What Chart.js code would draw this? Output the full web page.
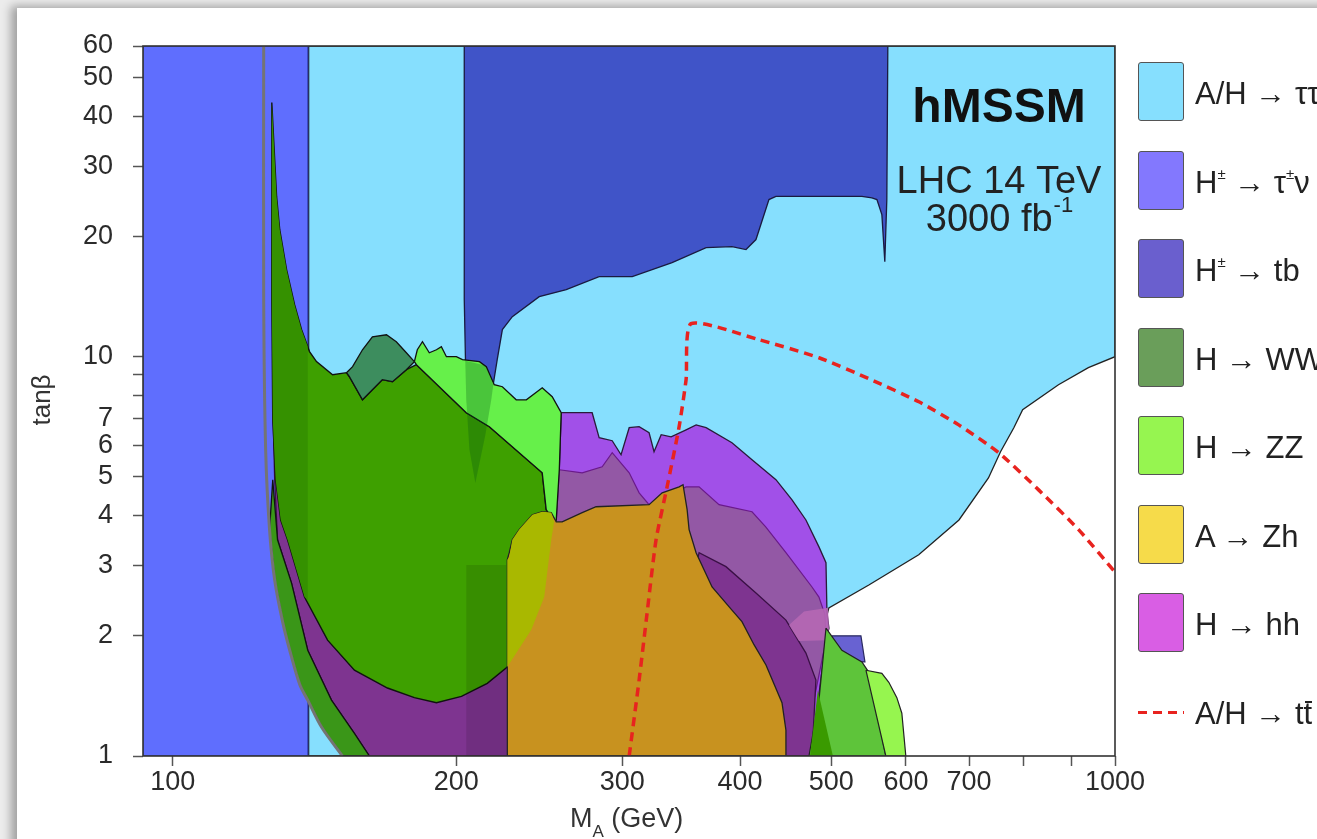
<!DOCTYPE html>
<html lang="en">
<head>
<meta charset="UTF-8">
<title>hMSSM LHC 14 TeV reach</title>
<script src="https://cdn.jsdelivr.net/npm/chart.js@4.4.1/dist/chart.umd.min.js"></script>
<style>
  body { margin: 0; width: 1317px; height: 839px; overflow: hidden; background: #ececec;
         font-family: "Liberation Sans", Arial, Helvetica, sans-serif; }
  .card { position: absolute; left: 17px; top: 8px; width: 1400px; height: 900px; background: #fff;
          box-shadow: -6px -2px 9px rgba(0,0,0,0.32); }
  #plot { position: absolute; left: 0; top: 0; }
  .legend { position: absolute; left: 1138px; top: 0; }
  .item { position: absolute; left: 0; height: 60px; white-space: nowrap; }
  .box { position: absolute; left: 0; top: 0; width: 44px; height: 57px; border: 1.5px solid #555; border-radius: 3px; }
  .dash { position: absolute; left: 0; top: 29px; width: 46px; height: 3px;
          background: repeating-linear-gradient(to right, #e8231f 0 9px, transparent 9px 15px); }
  .label { position: absolute; left: 57px; top: 0; line-height: 64px; font-size: 31px; color: #222; }
  .label sup { font-size: 15px; line-height: 0; vertical-align: baseline; position: relative; top: -14px; }
  .ov { position: relative; }
  .ov::after { content: ''; position: absolute; left: 1px; right: 0; top: 5px; height: 2px; background: #222; }
</style>
</head>
<body>
<div class="card"></div>
<canvas id="plot" width="1317" height="839"></canvas>
<div class="legend" id="legend"></div>
<script>
// axis ticks
const xTickLabels = [100, 200, 300, 400, 500, 600, 700, 1000];
const xMinorTicks = [800, 900];
const yTickLabels = [1, 2, 3, 4, 5, 6, 7, 10, 20, 30, 40, 50, 60];
const yMinorTicks = [8, 9];

// regions, [M_A (GeV), tan beta]
const regTauTau = [[139.4,60],[1000,60],[1000,10],[937,9.39],[871,8.51],[798,7.37],[781,6.64],[756,5.78],[734,4.97],[683,3.9],[619,3.19],[548,2.68],[497,2.35],[487,1.95],[473,1],[139.4,1]];
const regTauNu = [[93,60],[139.1,60],[139.1,1],[93,1]];
const regTbHigh = [[203.9,60],[574,60],[572.6,24.75],[569.8,17.3],[565.7,22.7],[558.9,24.75],[552.1,25],[538.8,25.2],[436.7,25.2],[429.3,24.75],[415.9,19.65],[405.9,18.55],[392.2,18.87],[368.2,18.76],[338.8,17.2],[307.4,15.87],[283.5,15.87],[261.6,14.72],[244.9,14.14],[229.3,12.6],[223.8,11.69],[221,9.83],[218.4,8.27],[214.7,6.38],[209.5,4.83],[206.5,5.85],[204.9,7.8],[203.9,13.9]];
const regTbLow = [[500.7,2],[537.5,2],[542.8,1.72],[509.4,1.72]];
const regHhOuter = [[258.4,7.24],[278.7,7.24],[283.5,6.27],[292.7,6.16],[299.1,5.68],[305.1,6.64],[312.6,6.68],[320.3,6.45],[324.2,5.78],[329.9,6.38],[338,6.3],[350.6,6.56],[359.3,6.75],[368.2,6.64],[392.2,6.09],[411.9,5.52],[436.7,4.92],[454.2,4.38],[469.9,3.9],[485.1,3.34],[493.5,3.05],[494.7,2.28],[497.1,2.09],[493.5,1.95],[475.7,1],[255.3,1],[255.3,3.86],[257.2,5.21]];
const regHhMid = [[257.2,5.21],[272,5.12],[285.6,5.3],[292.7,5.75],[305.1,5.12],[312.6,4.56],[320.3,4.26],[350.6,4.72],[361.9,4.72],[380,4.26],[411.9,4.09],[425.9,3.75],[447.5,3.23],[476.9,2.65],[485.1,2.5],[492.2,2.26],[493.5,1.95],[479.2,1.38],[476.9,1],[255.3,1],[255.3,3.86]];
const regHhInner = [[127.7,7.8],[128.3,4.92],[129.2,3.48],[133.7,2.71],[139.1,1.84],[147.4,1.38],[155.9,1.14],[161.7,1],[476.9,1],[481.5,1.55],[469.9,1.81],[447.5,2.19],[415.9,2.56],[386.5,2.98],[361.9,3.23],[353.2,2.46],[233.2,2.46],[174,2.46],[136.4,5.85],[129.9,8.76]];
const regHhEdge = [[450.9,2.13],[467.7,2.3],[495.9,2.35],[497.1,2.09],[494.7,1.95],[462,1.94]];
const regStrip = [[126.7,3.69],[128.3,2.76],[130.8,2.17],[133.1,1.84],[136.4,1.51],[139.1,1.38],[143.9,1.18],[151.4,1],[161.7,1],[155.9,1.14],[147.4,1.38],[139.1,1.84],[133.7,2.71],[129.2,3.48],[127.7,4.92]];
const regWwZz = [[127.4,43.3],[128.3,31.2],[128.9,25.2],[129.9,20.8],[132.1,16.5],[134.7,13.5],[137,11.7],[139.7,10.3],[142.1,9.72],[147.8,9.01],[152.9,9.12],[154,8.91],[159,7.8],[166.9,8.76],[171.1,8.66],[177,9.28],[181.4,9.55],[204.9,7.24],[216.8,6.68],[246.7,5.12],[249.1,4.14],[254,3.86],[252.2,3.48],[247.9,2.5],[240.2,2.07],[226.5,1.67],[215.7,1.52],[202.5,1.41],[190.5,1.36],[180.5,1.4],[169,1.48],[155.9,1.64],[146,1.95],[138,2.5],[132.4,3.48],[130.2,3.9],[128.6,4.92],[127.7,6.95],[127.4,13.9]];
const regWwLeft = [[127.4,43.3],[128.3,31.2],[128.9,25.2],[129.9,20.8],[132.1,16.5],[134.7,13.5],[137,11.7],[139.1,10.6],[139.1,2.46],[138,2.5],[132.4,3.48],[130.2,3.9],[128.6,4.92],[127.7,6.95],[127.4,13.9]];
const regWW = [[152.9,9.12],[155.2,9.44],[159,10.41],[162.9,11.22],[168.6,11.35],[172.7,10.9],[177,10.23],[180.5,9.72],[177,9.28],[171.1,8.66],[166.9,8.76],[159,7.8],[154,8.91]];
const regZZ = [[180.5,9.72],[181.8,10.41],[184.1,10.9],[187.2,10.23],[190.5,10.41],[192.8,10.59],[195.2,10],[200,10],[203,9.83],[211.6,9.72],[215.2,9.44],[219.4,8.51],[223.8,8.41],[231.5,7.8],[237.3,7.8],[246.7,8.36],[252.8,7.94],[258.4,7.24],[257.2,5.21],[255.3,3.9],[254,3.86],[249.1,4.14],[246.7,5.12],[216.8,6.68],[204.9,7.24],[181.4,9.55]];
const regTbSpike = [[204.4,9.77],[214.7,9.5],[218.9,8.51],[217.8,7.8],[214.7,6.38],[209.5,4.83],[206.5,5.85],[204.9,7.8]];
const regBox = [[204.9,3.01],[225.9,3.01],[225.9,1],[204.9,1]];
const regZh = [[226.5,1],[226.5,3.1],[227.6,3.23],[229.3,3.48],[233.2,3.69],[240.8,4.02],[246.7,4.09],[252.2,4.07],[255.3,3.86],[259,3.86],[272,4.07],[281.4,4.21],[320.3,4.26],[330.7,4.56],[344.7,4.72],[348,4.78],[351.5,4.14],[353.2,3.69],[359.3,3.23],[373.6,2.65],[392.2,2.32],[401.9,2.17],[413.9,1.9],[426.2,1.69],[443.2,1.36],[447.5,1.16],[447.5,1]];
const regZhOverlap = [[227.6,3.15],[229.3,3.48],[233.2,3.69],[240.8,4.02],[246.7,4.09],[252.2,4.07],[254,3.86],[252.2,3.48],[247.9,2.5],[240.2,2.07],[226.5,1.67],[226.5,3.1]];
const regWwLow = [[493.5,2.09],[513.1,1.84],[538.8,1.72],[548,1.62],[571.2,1],[473.4,1],[485.1,1.38],[489.8,1.74]];
const regWwLowInner = [[483.8,1.46],[501.9,1],[474.6,1]];
const regZzLow = [[544.1,1.64],[565.7,1.61],[575.4,1.53],[586.8,1.4],[594,1.28],[599.8,1],[571.2,1]];

// curves
const theoryEdge = [[124.9,60],[124.9,13.9],[125.5,5.85],[126.7,3.69],[128.3,2.76],[130.8,2.17],[133.1,1.84],[136.4,1.51],[139.1,1.38],[143.9,1.18],[151.4,1]];
const ttbarReach = [[305.1,1],[312.6,1.55],[318.1,2.19],[325.8,3.48],[334.7,4.72],[344.7,6.68],[350.6,8.76],[354.9,12.1],[419,11.03],[485.1,9.94],[548,8.81],[619.2,7.71],[682.6,6.75],[752.6,5.75],[829.7,4.64],[914.8,3.69],[1000,2.89]];

// legend
const legendLabels = ['A/H → ττ', 'H<sup>±</sup> → τ<sup>±</sup>ν', 'H<sup>±</sup> → tb', 'H → WW', 'H → ZZ', 'A → Zh', 'H → hh', 'A/H → t<span class="ov">t</span>'];
const legendColors = ['rgb(134,223,254)', 'rgb(131,120,254)', 'rgb(106,95,206)', 'rgb(106,158,90)', 'rgb(150,245,80)', 'rgb(246,219,74)', 'rgb(217,94,228)', null];

const NONE = 'rgba(0,0,0,0)';
// bottom to top
const layers = [
  [regTauTau, 'rgb(134,223,254)', '#222', 1.3],
  [regTauNu, 'rgb(95,110,254)', '#3344bb', 1.3],
  [regTbHigh, 'rgb(64,84,200)', '#1a1a40', 1.3],
  [regTbLow, 'rgb(104,98,210)', '#2a2a60', 1.2],
  [regHhOuter, 'rgb(161,80,232)', '#2a1a3a', 1.3],
  [regHhMid, 'rgb(147,88,165)', '#6a1a8a', 1.2],
  [regHhInner, 'rgb(126,52,144)', '#3a1045', 1.3],
  [regHhEdge, 'rgba(182,104,180,0.9)', NONE, 0],
  [regStrip, 'rgb(58,150,24)', '#111', 1.3],
  [regWwZz, 'rgb(62,160,0)', '#111', 1.4],
  [regWwLeft, 'rgb(53,145,0)', NONE, 0],
  [regWW, 'rgb(61,141,94)', '#111', 1.3],
  [regZZ, 'rgb(102,240,74)', '#111', 1.3],
  [regTbSpike, 'rgba(0,80,20,0.27)', NONE, 0],
  [regBox, 'rgba(0,0,0,0.11)', NONE, 0],
  [regZh, 'rgb(200,146,31)', '#222', 1.3],
  [regZhOverlap, 'rgb(169,184,0)', NONE, 0],
  [regWwLow, 'rgb(94,196,58)', '#222', 1.2],
  [regWwLowInner, 'rgb(58,154,0)', NONE, 0],
  [regZzLow, 'rgb(150,245,79)', '#222', 1.2]
];

const toXY = pts => pts.map(p => ({x: p[0], y: p[1]}));

const datasets = layers.map((l, i) => ({
  data: toXY(l[0].concat([l[0][0]])),
  fill: 'shape',
  backgroundColor: l[1],
  borderColor: l[2],
  borderWidth: l[3],
  pointRadius: 0,
  tension: 0,
  order: -i
}));
datasets.push({
  data: toXY(theoryEdge), fill: false, borderColor: '#747474', borderWidth: 3,
  pointRadius: 0, tension: 0.3, order: -layers.length
});
datasets.push({
  data: toXY(ttbarReach), fill: false, borderColor: '#e8231f', borderWidth: 3.5, borderDash: [9, 6],
  pointRadius: 0, tension: 0.2, order: -layers.length - 1
});

const font = '"Liberation Sans", Arial, Helvetica, sans-serif';
Chart.defaults.font.family = font;

const texts = {
  id: 'texts',
  afterDatasetsDraw(chart) {
    const {ctx, chartArea: a} = chart;
    ctx.save();
    ctx.strokeStyle = '#333';
    ctx.lineWidth = 1.6;
    ctx.strokeRect(a.left, a.top, a.right - a.left, a.bottom - a.top);
    ctx.restore();
  },
  afterDraw(chart) {
    const {ctx} = chart;
    ctx.save();
    ctx.fillStyle = '#111';
    ctx.textAlign = 'center';
    ctx.textBaseline = 'alphabetic';
    ctx.font = 'bold 48px ' + font;
    ctx.fillText('hMSSM', 999, 122);
    ctx.fillStyle = '#222';
    ctx.font = '38px ' + font;
    ctx.fillText('LHC 14 TeV', 999, 193);
    const w1 = ctx.measureText('3000 fb').width;
    ctx.font = '22px ' + font;
    const w2 = ctx.measureText('-1').width;
    const x0 = 999 - (w1 + w2) / 2;
    ctx.textAlign = 'left';
    ctx.fillText('-1', x0 + w1 + 1, 212);
    ctx.font = '38px ' + font;
    ctx.fillText('3000 fb', x0, 231);

    // axis titles
    ctx.fillStyle = '#333';
    ctx.font = '27px ' + font;
    const wm = ctx.measureText('M').width;
    ctx.fillText('M', 570, 827);
    ctx.font = '17px ' + font;
    const wa = ctx.measureText('A').width;
    ctx.fillText('A', 570 + wm, 837);
    ctx.font = '27px ' + font;
    ctx.fillText(' (GeV)', 570 + wm + wa, 827);

    ctx.translate(50, 400);
    ctx.rotate(-Math.PI / 2);
    ctx.textAlign = 'center';
    ctx.font = '26px ' + font;
    ctx.fillText('tanβ', 0, 0);
    ctx.restore();
  }
};

new Chart(document.getElementById('plot'), {
  type: 'line',
  data: {datasets: datasets},
  options: {
    responsive: false,
    animation: false,
    events: [],
    spanGaps: true,
    layout: {padding: {top: 46, right: 202, bottom: 0, left: 0}},
    plugins: {legend: {display: false}, tooltip: {enabled: false}},
    scales: {
      x: {
        type: 'logarithmic', min: 93, max: 1000,
        afterBuildTicks: axis => {
          axis.ticks = xTickLabels.concat(xMinorTicks).sort((a, b) => a - b).map(v => ({value: v}));
        },
        afterFit: s => { s.height = 83; },
        ticks: {
          autoSkip: false, maxRotation: 0, minRotation: 0, padding: 0,
          color: '#2b2b2b', font: {size: 27},
          callback: v => xTickLabels.includes(v) ? String(v) : ''
        },
        grid: {drawOnChartArea: false, drawTicks: true, tickLength: 10, tickColor: '#555', tickWidth: 1.5},
        border: {display: false}
      },
      y: {
        type: 'logarithmic', min: 1, max: 60,
        afterBuildTicks: axis => {
          axis.ticks = yTickLabels.concat(yMinorTicks).sort((a, b) => a - b).map(v => ({value: v}));
        },
        afterFit: s => { s.width = 143; },
        ticks: {
          autoSkip: false, padding: 20,
          color: '#2b2b2b', font: {size: 27},
          callback: v => yTickLabels.includes(v) ? String(v) : ''
        },
        grid: {drawOnChartArea: false, drawTicks: true, tickLength: 10, tickColor: '#555', tickWidth: 1.5},
        border: {display: false}
      }
    }
  },
  plugins: [texts]
});

// legend
const legend = document.getElementById('legend');
legendLabels.forEach((txt, i) => {
  const item = document.createElement('div');
  item.className = 'item';
  item.style.top = (62 + i * 88.5) + 'px';
  const mark = document.createElement('div');
  if (legendColors[i]) {
    mark.className = 'box';
    mark.style.background = legendColors[i];
  } else {
    mark.className = 'dash';
  }
  const label = document.createElement('div');
  label.className = 'label';
  label.innerHTML = txt;
  item.appendChild(mark);
  item.appendChild(label);
  legend.appendChild(item);
});
</script>
</body>
</html>
